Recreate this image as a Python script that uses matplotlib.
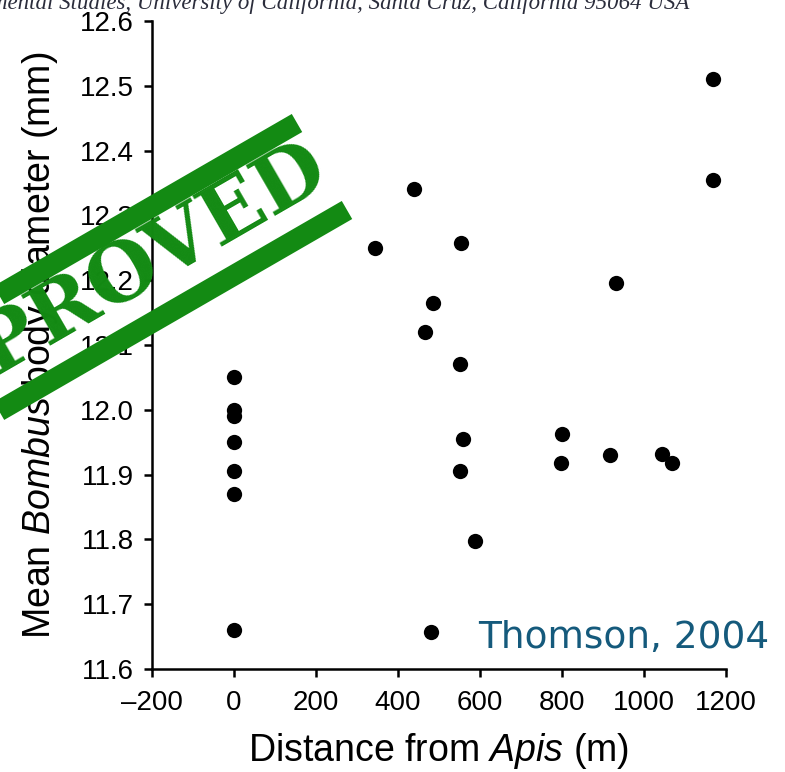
import numpy as np
import matplotlib.pyplot as plt
from matplotlib.lines import Line2D

# distance from Apis (m) and mean Bombus diameter (mm)
distance = [0, 0, 0, 0, 0, 0, 0,
            345, 438, 485, 465, 553, 551, 558, 551, 588, 480,
            801, 798, 916, 931, 1043, 1068, 1168, 1168]
diameter = [12.05, 12.00, 11.99, 11.95, 11.905, 11.87, 11.66,
            12.25, 12.34, 12.165, 12.12, 12.257, 12.07, 11.955, 11.905, 11.797, 11.657,
            11.962, 11.918, 11.931, 12.195, 11.932, 11.918, 12.51, 12.355]

x_ticks = [-200, 0, 200, 400, 600, 800, 1000, 1200]
y_ticks = [11.6, 11.7, 11.8, 11.9, 12.0, 12.1, 12.2, 12.3, 12.4, 12.5, 12.6]

W, H = 785, 772


def fx(x):
    return x / W


def fy(y):
    return 1 - y / H


plt.rcParams['mathtext.fontset'] = 'custom'
plt.rcParams['mathtext.it'] = 'Liberation Sans:italic'
plt.rcParams['mathtext.rm'] = 'Liberation Sans'

fig = plt.figure(figsize=(W / 100, H / 100), dpi=100)
ax = fig.add_axes([fx(152), fy(669), fx(726) - fx(152), fy(21) - fy(669)])

ax.plot(distance, diameter, 'o', color='black', markersize=11, markeredgewidth=0)

ax.set_xlim(-200, 1200)
ax.set_ylim(11.6, 12.6)
ax.set_xticks(x_ticks)
ax.set_xticklabels(['\u2013200' if t < 0 else str(t) for t in x_ticks])
ax.set_yticks(y_ticks)
ax.set_yticklabels(['%.1f' % t for t in y_ticks])

for side in ['top', 'right']:
    ax.spines[side].set_visible(False)
for side in ['left', 'bottom']:
    ax.spines[side].set_linewidth(1.8)
ax.tick_params(width=1.8, length=6, labelsize=20, direction='out')
ax.tick_params(axis='x', pad=9)
ax.tick_params(axis='y', pad=7)
for lab in ax.get_xticklabels() + ax.get_yticklabels():
    lab.set_family('Liberation Sans')

ax.set_xlabel('Distance from $\\it{Apis}$ (m)', fontsize=27, family='Liberation Sans', labelpad=11)
ax.set_ylabel('Mean $\\it{Bombus}$ body diameter (mm)', fontsize=27, family='Liberation Sans', labelpad=14)

# cut-off header line from the paper
fig.text(fx(690), fy(9), 'Environmental Studies, University of California, Santa Cruz, California 95064 USA',
         ha='right', va='baseline', fontsize=16.5, style='italic', family='Liberation Serif', color='#2b2d3c')

# citation
fig.text(fx(478), fy(648), 'Thomson, 2004', ha='left', va='baseline', fontsize=27,
         family='DejaVu Sans', color='#155a7c')

# stamp
green = '#138a13'
ang = 30
dx, dy = np.cos(np.radians(ang)), np.sin(np.radians(ang))
for ex, ey in [(297, 123), (347, 210)]:
    xs = [ex - 500 * dx, ex]
    ys = [ey + 500 * dy, ey]
    fig.add_artist(Line2D([fx(v) for v in xs], [fy(v) for v in ys], transform=fig.transFigure,
                          color=green, linewidth=15, solid_capstyle='butt'))
fig.text(fx(100), fy(292), 'APPROVED', ha='center', va='center', rotation=ang, rotation_mode='anchor',
         fontsize=58, fontweight='bold', family='DejaVu Serif', color=green)

plt.savefig('out.png', dpi=100)
